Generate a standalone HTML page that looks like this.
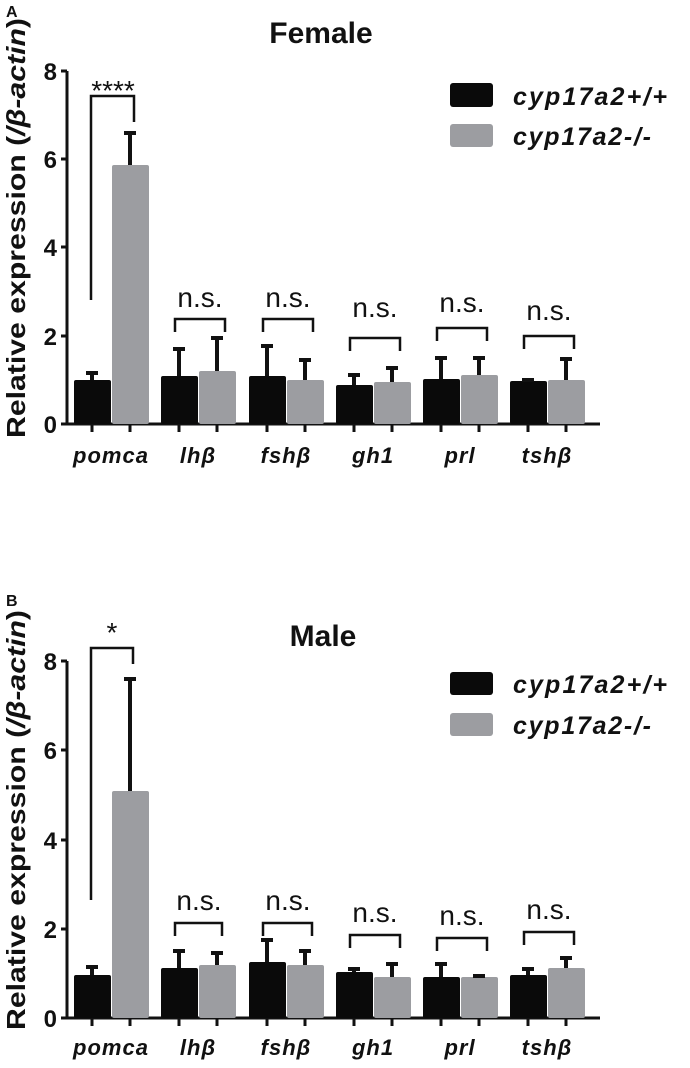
<!DOCTYPE html>
<html><head><meta charset="utf-8"><style>
html,body{margin:0;padding:0;background:#fff}
svg{display:block}
text{font-family:"Liberation Sans",sans-serif;fill:#111}
.t{font-weight:bold;font-size:24px}
.c{font-weight:bold;font-style:italic;font-size:22px;letter-spacing:1px}
.n{font-size:28px}
.lg{font-weight:bold;font-style:italic;font-size:25px}
.yl{font-size:26px;font-weight:bold}
</style></head><body>
<svg width="690" height="1068" viewBox="0 0 690 1068" xmlns="http://www.w3.org/2000/svg">
<g stroke="#111" fill="none">
<!-- Panel A -->
<text x="6" y="17" style="font-weight:bold;font-size:16px" stroke="none">A</text>
<text x="321" y="43" text-anchor="middle" style="font-weight:bold;font-size:30px" stroke="none">Female</text>
<text transform="translate(25,228) rotate(-90)" text-anchor="middle" class="yl" textLength="420" lengthAdjust="spacingAndGlyphs" stroke="none">Relative expression (<tspan font-style="italic">/β-actin</tspan>)</text>
<path d="M67,71V424H600" stroke-width="3"/>
<path d="M61,71H67M61,159H67M61,247H67M61,336H67M61,424H67" stroke-width="3"/>
<g class="t" text-anchor="end" stroke="none">
<text x="57" y="80">8</text><text x="57" y="168">6</text><text x="57" y="256">4</text><text x="57" y="345">2</text><text x="57" y="433">0</text>
</g>
<g fill="#0a0a0a" stroke="none">
<rect x="74" y="380" width="37" height="44" rx="2"/>
<rect x="161" y="376" width="37" height="48" rx="2"/>
<rect x="249" y="376" width="37" height="48" rx="2"/>
<rect x="336" y="385" width="37" height="39" rx="2"/>
<rect x="423" y="379" width="37" height="45" rx="2"/>
<rect x="510" y="381" width="37" height="43" rx="2"/>
</g>
<g fill="#9c9da1" stroke="none">
<rect x="112" y="165" width="37" height="259" rx="2"/>
<rect x="199" y="371" width="37" height="53" rx="2"/>
<rect x="287" y="380" width="37" height="44" rx="2"/>
<rect x="374" y="382" width="37" height="42" rx="2"/>
<rect x="461" y="375" width="37" height="49" rx="2"/>
<rect x="548" y="380" width="37" height="44" rx="2"/>
</g>
<g stroke-width="4">
<path d="M92,380V373M86,373H98"/>
<path d="M130,165V133M124,133H136"/>
<path d="M179,376V349M173,349H185"/>
<path d="M217,371V338M211,338H223"/>
<path d="M267,376V346M261,346H273"/>
<path d="M305,380V360M299,360H311"/>
<path d="M354,385V375M348,375H360"/>
<path d="M392,382V368M386,368H398"/>
<path d="M441,379V358M435,358H447"/>
<path d="M479,375V358M473,358H485"/>
<path d="M528,381V380M522,380H534"/>
<path d="M566,380V359M560,359H572"/>
</g>
<path d="M92,424V432M130,424V432M179,424V432M217,424V432M267,424V432M305,424V432M354,424V432M392,424V432M441,424V432M479,424V432M528,424V432M566,424V432" stroke-width="3"/>
<g stroke-width="2.5">
<path d="M91,300V96H134V122"/>
<path d="M175,332V319H225V332"/>
<path d="M263,332V319H313V332"/>
<path d="M350,351V338H400V351"/>
<path d="M437,341V328H487V341"/>
<path d="M524,349V336H574V349"/>
</g>
<g stroke="none">
<text x="113" y="100" text-anchor="middle" style="font-size:28px">****</text>
<g class="n" text-anchor="middle">
<text x="200" y="307">n.s.</text><text x="288" y="307">n.s.</text><text x="375" y="317">n.s.</text><text x="462" y="312">n.s.</text><text x="549" y="320">n.s.</text>
</g>
<g class="c" text-anchor="middle">
<text x="111" y="463">pomca</text><text x="198" y="463">lhβ</text><text x="286" y="463">fshβ</text><text x="373" y="463">gh1</text><text x="460" y="463">prl</text><text x="547" y="463">tshβ</text>
</g>
<rect x="450" y="83" width="43" height="24" rx="3" fill="#0a0a0a"/>
<rect x="450" y="124" width="43" height="23" rx="3" fill="#9c9da1"/>
<text x="513" y="105" class="lg" textLength="154">cyp17a2+/+</text>
<text x="513" y="145" class="lg" textLength="138">cyp17a2-/-</text>
</g>

<!-- Panel B -->
<text x="6" y="606" style="font-weight:bold;font-size:16px" stroke="none">B</text>
<text x="323" y="646" text-anchor="middle" style="font-weight:bold;font-size:30px" stroke="none">Male</text>
<text transform="translate(25,820) rotate(-90)" text-anchor="middle" class="yl" textLength="420" lengthAdjust="spacingAndGlyphs" stroke="none">Relative expression (<tspan font-style="italic">/β-actin</tspan>)</text>
<path d="M67,661V1018H600" stroke-width="3"/>
<path d="M61,661H67M61,750H67M61,840H67M61,929H67M61,1018H67" stroke-width="3"/>
<g class="t" text-anchor="end" stroke="none">
<text x="57" y="670">8</text><text x="57" y="759">6</text><text x="57" y="849">4</text><text x="57" y="938">2</text><text x="57" y="1027">0</text>
</g>
<g fill="#0a0a0a" stroke="none">
<rect x="74" y="975" width="37" height="43" rx="2"/>
<rect x="161" y="968" width="37" height="50" rx="2"/>
<rect x="249" y="962" width="37" height="56" rx="2"/>
<rect x="336" y="972" width="37" height="46" rx="2"/>
<rect x="423" y="977" width="37" height="41" rx="2"/>
<rect x="510" y="975" width="37" height="43" rx="2"/>
</g>
<g fill="#9c9da1" stroke="none">
<rect x="112" y="791" width="37" height="227" rx="2"/>
<rect x="199" y="965" width="37" height="53" rx="2"/>
<rect x="287" y="965" width="37" height="53" rx="2"/>
<rect x="374" y="977" width="37" height="41" rx="2"/>
<rect x="461" y="977" width="37" height="41" rx="2"/>
<rect x="548" y="968" width="37" height="50" rx="2"/>
</g>
<g stroke-width="4">
<path d="M92,975V967M86,967H98"/>
<path d="M130,791V679M124,679H136"/>
<path d="M179,968V951M173,951H185"/>
<path d="M217,965V953M211,953H223"/>
<path d="M267,962V940M261,940H273"/>
<path d="M305,965V951M299,951H311"/>
<path d="M354,972V969M348,969H360"/>
<path d="M392,977V964M386,964H398"/>
<path d="M441,977V964M435,964H447"/>
<path d="M479,977V976M473,976H485"/>
<path d="M528,975V969M522,969H534"/>
<path d="M566,968V958M560,958H572"/>
</g>
<path d="M92,1018V1026M130,1018V1026M179,1018V1026M217,1018V1026M267,1018V1026M305,1018V1026M354,1018V1026M392,1018V1026M441,1018V1026M479,1018V1026M528,1018V1026M566,1018V1026" stroke-width="3"/>
<g stroke-width="2.5">
<path d="M91,900V648H133V664"/>
<path d="M175,936V923H222V936"/>
<path d="M263,936V923H312V936"/>
<path d="M350,948V935H400V948"/>
<path d="M437,951V938H487V951"/>
<path d="M524,945V932H574V945"/>
</g>
<g stroke="none">
<text x="112" y="642" text-anchor="middle" style="font-size:28px">*</text>
<g class="n" text-anchor="middle">
<text x="199" y="910">n.s.</text><text x="288" y="910">n.s.</text><text x="375" y="922">n.s.</text><text x="462" y="925">n.s.</text><text x="549" y="919">n.s.</text>
</g>
<g class="c" text-anchor="middle">
<text x="111" y="1055">pomca</text><text x="198" y="1055">lhβ</text><text x="286" y="1055">fshβ</text><text x="373" y="1055">gh1</text><text x="460" y="1055">prl</text><text x="547" y="1055">tshβ</text>
</g>
<rect x="450" y="672" width="43" height="23" rx="3" fill="#0a0a0a"/>
<rect x="450" y="713" width="43" height="23" rx="3" fill="#9c9da1"/>
<text x="513" y="693" class="lg" textLength="154">cyp17a2+/+</text>
<text x="513" y="734" class="lg" textLength="138">cyp17a2-/-</text>
</g>
</g>
</svg>
</body></html>
